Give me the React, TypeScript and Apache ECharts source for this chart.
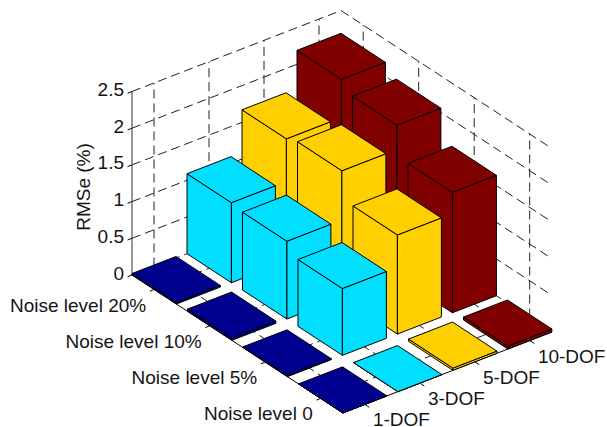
import React, { useEffect, useRef } from "react";
import * as echarts from "echarts";

const noiseLabels = ["Noise level 20%", "Noise level 10%", "Noise level 5%", "Noise level 0"];
const dofLabels = ["1-DOF", "3-DOF", "5-DOF", "10-DOF"];
const zTicks = [0, 0.5, 1, 1.5, 2, 2.5];
const zTickLabels = ["0", "0.5", "1", "1.5", "2", "2.5"];

const dof1 = [0.02, 0.03, 0.01, 0];
const dof3 = [1.09, 1.06, 0.91, 0];
const dof5 = [1.67, 1.73, 1.35, 0.03];
const dof10 = [2.19, 2.06, 1.64, 0.04];

const W = 607;
const H = 427;
const LOW = 0.6;
const HIGH = 4.4;
const BAR = 0.4;
const FONT = "Liberation Sans";
const FS = 19;
const TEXT = "#141414";
const GRID = "#202020";
const DASH = [9, 5];

// oblique view of the (dof, noise, value) box, in plot units
const project = (c: number, r: number, z: number): [number, number] => [
  132 + (c - LOW) * 55 + (r - LOW) * 55.5,
  275 - (c - LOW) * 21.3 + (r - LOW) * 36.3 - z * 73.4,
];

const line = (api: any, a: [number, number, number], b: [number, number, number], stroke: string, dash?: number[]) => {
  const p = api.coord(project(a[0], a[1], a[2]));
  const q = api.coord(project(b[0], b[1], b[2]));
  return {
    type: "line",
    silent: true,
    shape: { x1: p[0], y1: p[1], x2: q[0], y2: q[1] },
    style: { stroke, lineWidth: 1, fill: null, lineDash: dash },
  };
};

const label = (text: string, x: number, y: number, align: string, rotation = 0) => ({
  type: "text",
  silent: true,
  x,
  y,
  rotation,
  style: {
    text,
    fill: TEXT,
    fontFamily: FONT,
    fontSize: FS,
    align,
    verticalAlign: "middle",
    textAlign: align,
    textVerticalAlign: "middle",
  },
});

const renderFrame = (_: any, api: any) => {
  const zMax = zTicks[zTicks.length - 1];
  const children: any[] = [];
  zTicks.forEach((z, i) => {
    children.push(line(api, [LOW, LOW, z], [HIGH, LOW, z], GRID, DASH));
    children.push(line(api, [HIGH, LOW, z], [HIGH, HIGH, z], GRID, DASH));
    children.push(line(api, [LOW, LOW, z], [LOW - 0.08, LOW, z], "#000"));
    const p = api.coord(project(LOW, LOW, z));
    children.push(label(zTickLabels[i], p[0] - 8, p[1] - 2, "right"));
  });
  [1, 2, 3, 4].forEach((k) => {
    children.push(line(api, [k, LOW, 0], [k, LOW, zMax], GRID, DASH));
    children.push(line(api, [HIGH, k, 0], [HIGH, k, zMax], GRID, DASH));
    children.push(line(api, [k, LOW, 0], [k, HIGH, 0], GRID, DASH));
    children.push(line(api, [LOW, k, 0], [HIGH, k, 0], GRID, DASH));
    children.push(line(api, [k, HIGH, 0], [k, HIGH + 0.08, 0], "#000"));
    children.push(line(api, [LOW, k, 0], [LOW - 0.08, k, 0], "#000"));
    const a = api.coord(project(LOW, k, 0));
    children.push(label(noiseLabels[k - 1], a[0] - 8, a[1] + 15.5, "right"));
    const b = api.coord(project(k, HIGH, 0));
    children.push(label(dofLabels[k - 1], b[0] + 8, b[1] + 15.5, "left"));
  });
  children.push(line(api, [LOW, LOW, 0], [LOW, LOW, zMax], "#303030"));
  children.push(line(api, [LOW, LOW, 0], [LOW, HIGH, 0], "#000"));
  children.push(line(api, [LOW, HIGH, 0], [HIGH, HIGH, 0], "#000"));
  const o = api.coord([83, 187]);
  children.push(label("RMSe (%)", o[0], o[1], "center", Math.PI / 2));
  return { type: "group", children };
};

const renderBar = (color: string) => (_: any, api: any) => {
  const c = api.value(0);
  const r = api.value(1);
  const v = api.value(2);
  const pt = (cc: number, rr: number, z: number) => api.coord(project(cc, rr, z));
  const c0 = c - BAR;
  const c1 = c + BAR;
  const r0 = r - BAR;
  const r1 = r + BAR;
  const face = (points: number[][]) => ({
    type: "polygon",
    silent: true,
    shape: { points },
    style: { fill: color, stroke: "#000", lineWidth: 1, lineJoin: "round" },
  });
  return {
    type: "group",
    children: [
      face([pt(c0, r0, 0), pt(c0, r1, 0), pt(c0, r1, v), pt(c0, r0, v)]),
      face([pt(c0, r1, 0), pt(c1, r1, 0), pt(c1, r1, v), pt(c0, r1, v)]),
      face([pt(c0, r0, v), pt(c0, r1, v), pt(c1, r1, v), pt(c1, r0, v)]),
    ],
  };
};

const barSeries = (col: number, values: number[], color: string) => ({
  type: "custom",
  coordinateSystem: "cartesian2d",
  clip: false,
  silent: true,
  renderItem: renderBar(color),
  encode: { x: 0, y: 1 },
  data: values.map((v, i) => [col, i + 1, v]),
});

export default function App() {
  const ref = useRef<HTMLDivElement>(null);
  useEffect(() => {
    document.body.style.margin = "0";
    const chart = echarts.init(ref.current as HTMLDivElement, undefined, { renderer: "svg" });
    chart.setOption({
      animation: false,
      backgroundColor: "#fff",
      grid: { left: 0, top: 0, width: W, height: H },
      xAxis: { type: "value", min: 0, max: W, show: false },
      yAxis: { type: "value", min: 0, max: H, inverse: true, show: false },
      series: [
        {
          type: "custom",
          coordinateSystem: "cartesian2d",
          clip: false,
          silent: true,
          renderItem: renderFrame,
          encode: { x: 0, y: 1 },
          data: [[0, 0]],
        },
        barSeries(4, dof10, "#800000"),
        barSeries(3, dof5, "#FFCF00"),
        barSeries(2, dof3, "#00DFFF"),
        barSeries(1, dof1, "#00008F"),
      ],
    });
    return () => chart.dispose();
  }, []);
  return <div ref={ref} style={{ width: W, height: H }} />;
}
